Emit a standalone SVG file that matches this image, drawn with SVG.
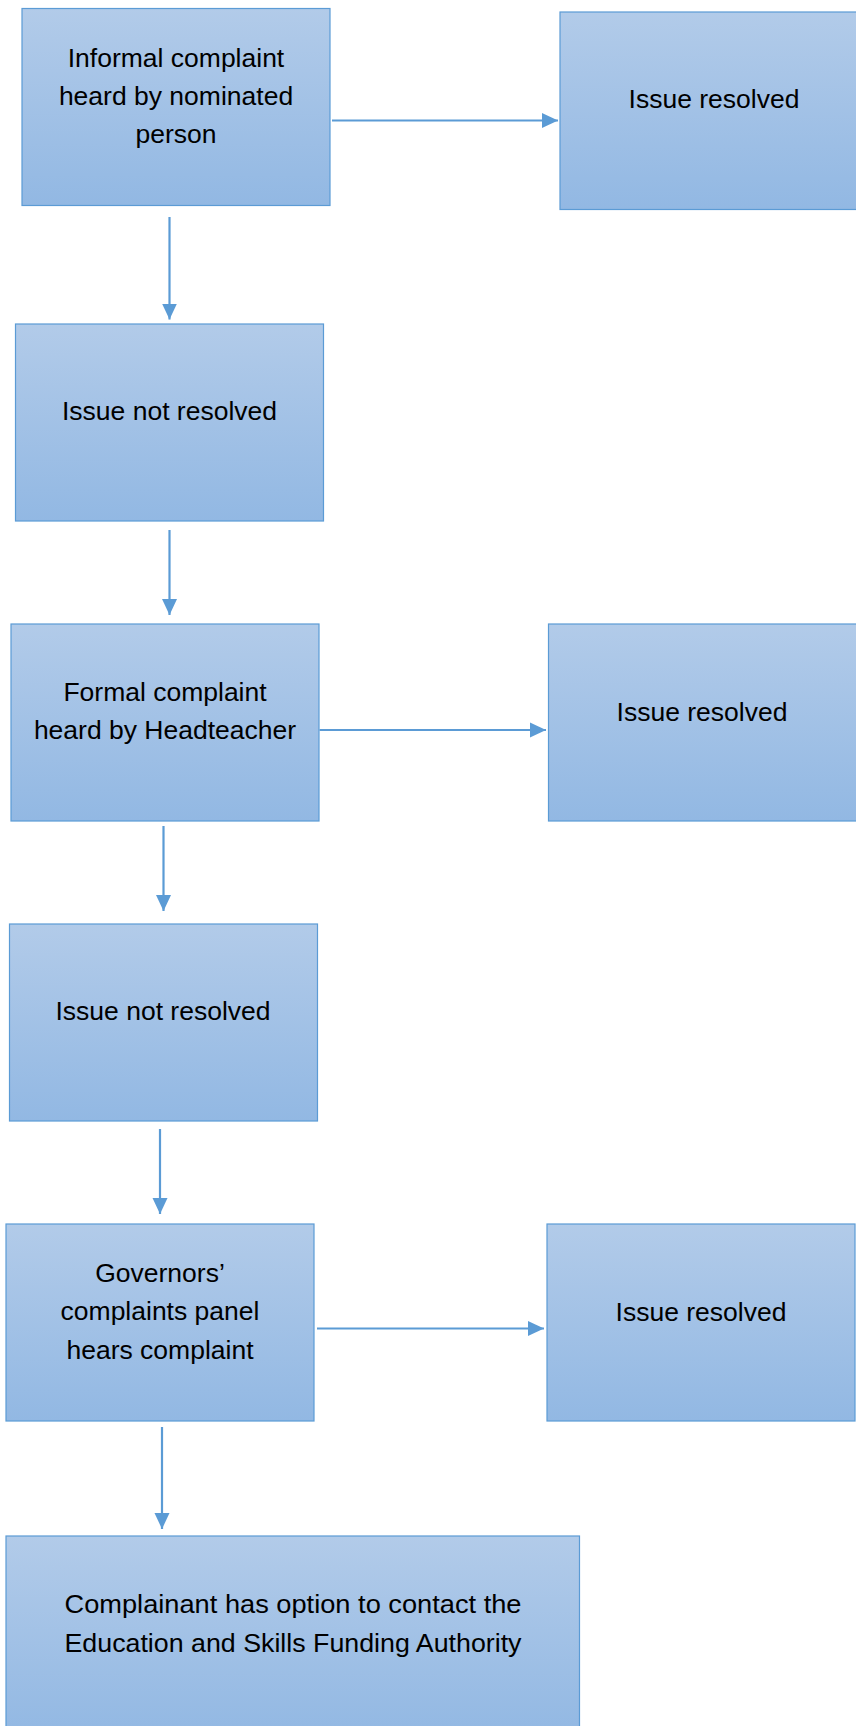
<svg xmlns="http://www.w3.org/2000/svg" width="856" height="1726" viewBox="0 0 856 1726">
<style>
.box{fill:url(#g);stroke:#5b9bd5;stroke-width:1.2}
.t{font-family:"Liberation Sans",Arial,sans-serif;font-size:26.5px;fill:#000;text-anchor:middle}
.c{stroke:#5b9bd5;stroke-width:2.2;fill:none;marker-end:url(#ah)}
</style>
<defs>
<linearGradient id="g" x1="0" y1="0" x2="0" y2="1">
<stop offset="0" stop-color="#b2cbe9"/>
<stop offset="1" stop-color="#92b8e3"/>
</linearGradient>
<marker id="ah" markerUnits="userSpaceOnUse" markerWidth="16" markerHeight="16" viewBox="0 0 16 16" refX="16" refY="8" orient="auto">
<path d="M0,0.5 L16,8 L0,15.5 Z" fill="#5b9bd5"/>
</marker>
</defs>
<rect width="856" height="1726" fill="#fff"/>
<g id="connectors">
<line class="c" x1="332" y1="120.5" x2="558" y2="120.5"/>
<line class="c" x1="169.5" y1="217" x2="169.5" y2="319.5"/>
<line class="c" x1="169.5" y1="530" x2="169.5" y2="615"/>
<line class="c" x1="319.5" y1="730" x2="546" y2="730"/>
<line class="c" x1="163.5" y1="826" x2="163.5" y2="911"/>
<line class="c" x1="160" y1="1129" x2="160" y2="1214"/>
<line class="c" x1="317" y1="1328.5" x2="544" y2="1328.5"/>
<line class="c" x1="162" y1="1427" x2="162" y2="1529"/>
</g>
<g id="n1">
<rect class="box" x="22" y="8.5" width="308" height="197"/>
<text class="t" x="176" y="67">Informal complaint</text>
<text class="t" x="176" y="104.5">heard by nominated</text>
<text class="t" x="176" y="143">person</text>
</g>
<g id="n2">
<rect class="box" x="560" y="12" width="310" height="197.5"/>
<text class="t" x="714" y="107.5">Issue resolved</text>
</g>
<g id="n3">
<rect class="box" x="15.5" y="324" width="308" height="197"/>
<text class="t" x="169.5" y="420">Issue not resolved</text>
</g>
<g id="n4">
<rect class="box" x="11" y="624" width="308" height="197"/>
<text class="t" x="165" y="701">Formal complaint</text>
<text class="t" x="165" y="738.5">heard by Headteacher</text>
</g>
<g id="n5">
<rect class="box" x="548.5" y="624" width="320" height="197"/>
<text class="t" x="702" y="721">Issue resolved</text>
</g>
<g id="n6">
<rect class="box" x="9.5" y="924" width="308" height="197"/>
<text class="t" x="163" y="1019.5">Issue not resolved</text>
</g>
<g id="n7">
<rect class="box" x="6" y="1224" width="308" height="197"/>
<text class="t" x="160" y="1282">Governors’</text>
<text class="t" x="160" y="1320">complaints panel</text>
<text class="t" x="160" y="1358.5">hears complaint</text>
</g>
<g id="n8">
<rect class="box" x="547" y="1224" width="308" height="197"/>
<text class="t" x="701" y="1321">Issue resolved</text>
</g>
<g id="n9">
<rect class="box" x="6" y="1536" width="573.5" height="200"/>
<text class="t" x="293" y="1613" textLength="457" lengthAdjust="spacingAndGlyphs">Complainant has option to contact the</text>
<text class="t" x="293" y="1652" textLength="457" lengthAdjust="spacingAndGlyphs">Education and Skills Funding Authority</text>
</g>
</svg>
